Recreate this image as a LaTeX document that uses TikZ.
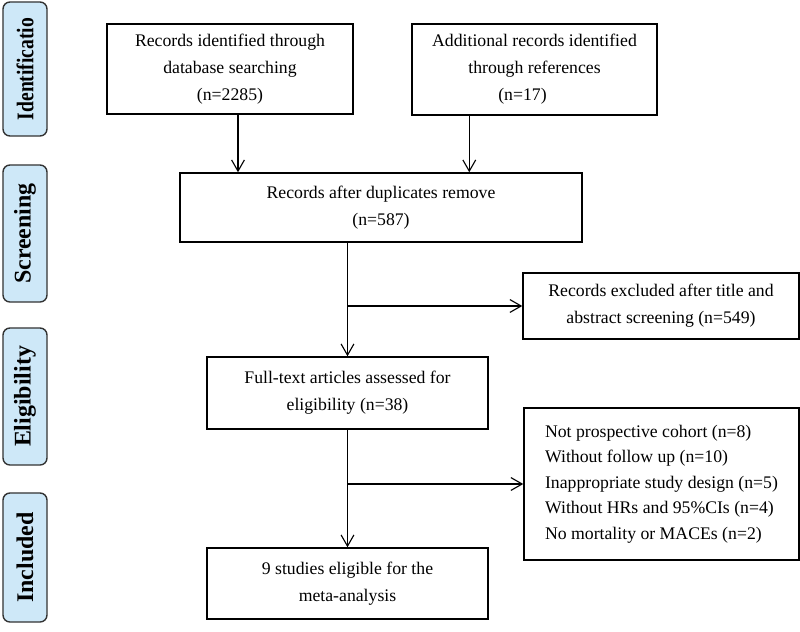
\documentclass[tikz,border=0pt]{standalone}
\usepackage{fontspec}
\setmainfont{Liberation Serif}
\usetikzlibrary{arrows.meta,positioning}
\definecolor{stagefill}{RGB}{206,232,248}
\tikzset{>={Straight Barb[length=2.8mm,width=3.2mm]}}
\tikzset{rec/.style={draw,line width=1pt,align=center,inner sep=2pt,font=\fontsize{12.6}{19.2}\selectfont},
  stage/.style={draw=black!80,line width=1pt,fill=stagefill,rounded corners=5pt,rotate=90,minimum height=1.1cm,inner sep=1pt,font=\fontsize{17}{20}\selectfont\bfseries},
  flow/.style={->,line width=0.8pt}}

\begin{document}
\begin{tikzpicture}[x=0.025cm,y=-0.025cm]
\useasboundingbox (0,0) rectangle (800,631);
% stages
\node[stage,minimum width=3.35cm] (sid) at (25,69) {\scalebox{0.82}[1]{Identificatio}};
\node[stage,minimum width=3.425cm] (sscr) at (25,233.5) {Screening};
\node[stage,minimum width=3.425cm] (selig) at (25,396.5) {Eligibility};
\node[stage,minimum width=3.225cm] (sinc) at (25,557.5) {Included};
% boxes
\node[rec,minimum width=6.15cm,minimum height=2.25cm] (db) at (230,69) {Records identified through\\database searching\\(n=2285)};
\node[rec,minimum width=6.125cm,minimum height=2.275cm] (add) at (534.5,69.5) {Additional records identified\\through references\\(n=17)\hspace*{0.6cm}};
\node[rec,minimum width=10.05cm,minimum height=1.725cm] (dup) at (381,207.5) {Records after duplicates remove\\(n=587)};
\node[rec,minimum width=6.9cm,minimum height=1.65cm] (excl) at (661,306) {Records excluded after title and\\abstract screening (n=549)};
\node[rec,minimum width=7.025cm,minimum height=1.8cm] (full) at (347.5,393) {Full-text articles assessed for\\eligibility (n=38)};
\node[rec,minimum width=6.875cm,minimum height=3.8cm,align=left,font=\fontsize{12.6}{18.2}\selectfont] (why) at (661.5,484) {Not prospective cohort (n=8)\\Without follow up (n=10)\\Inappropriate study design (n=5)\\Without HRs and 95\%CIs (n=4)\\No mortality or MACEs (n=2)};
\node[rec,minimum width=7.025cm,minimum height=1.775cm] (incl) at (347.5,583.5) {9 studies eligible for the\\meta-analysis};
% arrows
\draw[flow] ([xshift=0.2cm]db.south) -- ([xshift=0.2cm]db.south |- dup.north);
\draw[flow] ([xshift=1.45cm]add.south west) -- ([xshift=1.45cm]add.south west |- dup.north);
\draw[flow] (dup.south -| full.north) -- (full.north);
\draw[flow] (excl.west -| full.north) -- (excl.west);
\draw[flow] (full.south) -- (incl.north);
\draw[flow] (why.west -| full.south) -- (why.west);
\end{tikzpicture}
\end{document}
